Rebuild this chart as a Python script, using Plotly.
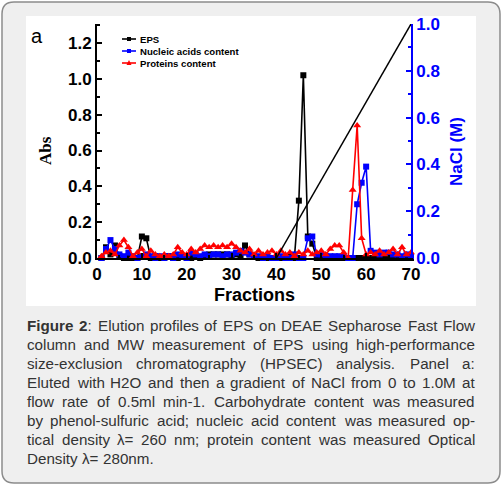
import plotly.graph_objects as go

W, H = 502, 486

fractions = list(range(1, 71))

eps = [0.00, 0.06, 0.02, 0.07, 0.01, 0.00, 0.00, 0.00, 0.00, 0.12,
       0.11, 0.00, 0.01, 0.00, 0.00, 0.01, 0.00, 0.00, 0.01, 0.00,
       0.00, 0.01, 0.00, 0.01, 0.02, 0.02, 0.02, 0.02, 0.02, 0.01,
       0.02, 0.01, 0.07, 0.02, 0.01, 0.00, 0.00, 0.00, 0.00, 0.00,
       0.00, 0.00, 0.01, 0.00, 0.32, 1.02, 0.12, 0.08, 0.00, 0.00,
       0.00, 0.00, 0.00, 0.00, 0.00, 0.00, 0.00, 0.00, 0.00, 0.00,
       0.00, 0.00, 0.00, 0.00, 0.00, 0.00, 0.00, 0.00, 0.00, 0.00]

nucleic = [0.00, 0.05, 0.10, 0.05, 0.02, 0.01, 0.03, 0.01, 0.00, 0.01,
           0.02, 0.01, 0.00, 0.01, 0.00, 0.01, 0.00, 0.02, 0.01, 0.00,
           0.03, 0.02, 0.01, 0.02, 0.01, 0.02, 0.02, 0.01, 0.02, 0.02,
           0.03, 0.04, 0.03, 0.02, 0.01, 0.01, 0.00, 0.01, 0.00, 0.00,
           0.01, 0.00, 0.00, 0.02, 0.00, 0.00, 0.11, 0.12, 0.02, 0.02,
           0.01, 0.01, 0.01, 0.01, 0.01, 0.00, 0.00, 0.30, 0.42, 0.51,
           0.04, 0.03, 0.02, 0.03, 0.03, 0.02, 0.02, 0.01, 0.02, 0.01]

proteins = [0.01, 0.03, 0.04, 0.02, 0.07, 0.10, 0.06, 0.01, 0.03, 0.05,
            0.01, 0.04, 0.02, 0.01, 0.02, 0.01, 0.02, 0.06, 0.03, 0.02,
            0.05, 0.03, 0.05, 0.07, 0.06, 0.07, 0.06, 0.07, 0.06, 0.08,
            0.06, 0.04, 0.03, 0.05, 0.02, 0.04, 0.02, 0.03, 0.04, 0.02,
            0.04, 0.02, 0.03, 0.01, 0.03, 0.02, 0.04, 0.02, 0.03, 0.04,
            0.02, 0.05, 0.07, 0.07, 0.03, 0.00, 0.38, 0.74, 0.11, 0.02,
            0.03, 0.02, 0.04, 0.02, 0.03, 0.05, 0.02, 0.06, 0.02, 0.03]

nacl_x = [40, 70]
nacl_y = [0.0, 1.0]

legend_names = ["EPS", "Nucleic acids content", "Proteins content"]

caption = [
    "<b>Figure</b> <b>2</b>: Elution profiles of EPS on DEAE Sepharose Fast Flow",
    "column and MW measurement of EPS using high-performance",
    "size-exclusion chromatography (HPSEC) analysis. Panel a:",
    "Eluted with H2O and then a gradient of NaCl from 0 to 1.0M at",
    "flow rate of 0.5ml min-1. Carbohydrate content was measured",
    "by phenol-sulfuric acid; nucleic acid content was measured op-",
    "tical density \u03bb= 260 nm; protein content was measured Optical",
    "Density \u03bb= 280nm.",
]


def px_x(v):
    return v / W


def px_y(v):
    return 1 - v / H


# rough Arial / Liberation Sans advance widths (per 1000 em) for justifying the caption
REG = dict(zip("abcdefghijklmnopqrstuvwxyz",
               [556, 556, 500, 556, 556, 278, 556, 556, 222, 222, 500, 222, 833,
                556, 556, 556, 556, 333, 500, 278, 556, 500, 722, 500, 500, 500]))
REG.update(zip("ABCDEFGHIJKLMNOPQRSTUVWXYZ",
               [667, 667, 722, 722, 667, 611, 778, 722, 278, 500, 667, 556, 833,
                722, 778, 667, 778, 722, 667, 611, 722, 667, 944, 667, 667, 611]))
REG.update({c: 556 for c in "0123456789"})
REG.update({" ": 278, ".": 278, ",": 278, ":": 278, ";": 278, "-": 333,
            "(": 333, ")": 333, "=": 584, "\u03bb": 500})
BOLD = {"F": 611, "i": 278, "g": 611, "u": 611, "r": 389, "e": 556, "2": 556}


def word_width(word, size):
    bold = False
    total = 0
    i = 0
    while i < len(word):
        if word.startswith("<b>", i):
            bold, i = True, i + 3
            continue
        if word.startswith("</b>", i):
            bold, i = False, i + 4
            continue
        ch = word[i]
        total += (BOLD.get(ch, 600) if bold else REG.get(ch, 556))
        i += 1
    return total * size / 1000


fig = go.Figure()
fig.add_trace(go.Scatter(
    x=fractions, y=eps, name="EPS", mode="lines+markers",
    line=dict(color="black", width=1.6),
    marker=dict(symbol="square", size=6, color="black"),
    cliponaxis=False,
))
fig.add_trace(go.Scatter(
    x=fractions, y=nucleic, name="Nucleic acids content", mode="lines+markers",
    line=dict(color="#0000ff", width=1.6),
    marker=dict(symbol="square", size=6, color="#0000ff"),
    cliponaxis=False,
))
fig.add_trace(go.Scatter(
    x=fractions, y=proteins, name="Proteins content", mode="lines+markers",
    line=dict(color="#ff0000", width=1.6),
    marker=dict(symbol="triangle-up", size=7, color="#ff0000"),
    cliponaxis=False,
))
fig.add_trace(go.Scatter(
    x=nacl_x, y=nacl_y, yaxis="y2", mode="lines",
    line=dict(color="black", width=1.5),
))

tick_font = dict(family="Liberation Sans, Arial", size=17, weight="bold", color="black")

fig.update_layout(
    template="none",
    width=W, height=H,
    margin=dict(l=0, r=0, t=0, b=0, autoexpand=False),
    paper_bgcolor="white",
    plot_bgcolor="white",
    showlegend=False,
    xaxis=dict(
        domain=[px_x(97), px_x(411)], range=[0, 70], automargin=False,
        showline=True, linecolor="black", linewidth=1.8,
        ticks="inside", ticklen=5, tickwidth=1.5, tickcolor="black",
        dtick=10, tick0=0, tickfont=tick_font,
        minor=dict(ticks="inside", ticklen=3, dtick=5, tickcolor="black"),
        showgrid=False, zeroline=False,
    ),
    yaxis=dict(
        domain=[px_y(258), px_y(24)], range=[0, 1.306], automargin=False,
        showline=True, linecolor="black", linewidth=1.8,
        ticks="inside", ticklen=5, tickwidth=1.5, tickcolor="black",
        tickvals=[0, 0.2, 0.4, 0.6, 0.8, 1.0, 1.2], tickformat=".1f",
        tickfont=tick_font,
        minor=dict(ticks="inside", ticklen=3, tickvals=[0.1, 0.3, 0.5, 0.7, 0.9, 1.1, 1.3], tickcolor="black"),
        showgrid=False, zeroline=False,
    ),
    yaxis2=dict(
        overlaying="y", side="right", anchor="x", range=[0, 1.0], automargin=False,
        showline=True, linecolor="#0000ff", linewidth=1.8,
        ticks="inside", ticklen=5, tickwidth=1.5, tickcolor="#0000ff",
        dtick=0.2, tickformat=".1f",
        tickfont=dict(family="Liberation Sans, Arial", size=17, weight="bold", color="#0000ff"),
        minor=dict(ticks="inside", ticklen=3, dtick=0.1, tickcolor="#0000ff"),
        showgrid=False, zeroline=False,
    ),
)

# card background, border and white chart panel
card = ("M 14,2 L 488,2 Q 500,2 500,14 L 500,471 Q 500,483 488,483 "
        "L 14,483 Q 2,483 2,471 L 2,14 Q 2,2 14,2 Z")
conv = []
for p in card.split():
    if "," in p:
        a, b = p.split(",")
        conv.append("%.5f,%.5f" % (px_x(float(a)), px_y(float(b))))
    else:
        conv.append(p)
fig.add_shape(type="path", path=" ".join(conv), xref="paper", yref="paper",
              fillcolor="#efefef", line=dict(color="#8c8c8c", width=1.5), layer="below")
fig.add_shape(type="rect", xref="paper", yref="paper",
              x0=px_x(26), x1=px_x(476), y0=px_y(306), y1=px_y(16),
              fillcolor="white", line=dict(width=0), layer="below")

# hand-made legend (plotly's own legend rows are too tall)
leg_colors = ["black", "#0000ff", "#ff0000"]
for i, (name, col) in enumerate(zip(legend_names, leg_colors)):
    yc = 39 + 12 * i
    fig.add_shape(type="line", xref="paper", yref="paper",
                  x0=px_x(122), x1=px_x(136), y0=px_y(yc), y1=px_y(yc),
                  line=dict(color=col, width=1.6))
    if i < 2:
        fig.add_shape(type="rect", xref="paper", yref="paper",
                      x0=px_x(127), x1=px_x(131), y0=px_y(yc + 2), y1=px_y(yc - 2),
                      fillcolor=col, line=dict(width=0))
    else:
        fig.add_shape(type="path", xref="paper", yref="paper",
                      path="M %.5f,%.5f L %.5f,%.5f L %.5f,%.5f Z" % (
                          px_x(126.5), px_y(yc + 2), px_x(131.5), px_y(yc + 2),
                          px_x(129), px_y(yc - 3)),
                      fillcolor=col, line=dict(width=0))
    fig.add_annotation(x=px_x(138), y=px_y(yc), xref="paper", yref="paper", text=name,
                       xanchor="left", yanchor="middle", showarrow=False,
                       font=dict(family="Liberation Sans, Arial", size=9.6, weight="bold", color="black"))

# axis titles and panel label
fig.add_annotation(x=px_x(45), y=px_y(151), xref="paper", yref="paper", text="Abs",
                   textangle=-90, showarrow=False, xanchor="center", yanchor="middle",
                   font=dict(family="Liberation Serif, Times New Roman", size=17, weight="bold", color="black"))
fig.add_annotation(x=px_x(254), y=px_y(295), xref="paper", yref="paper", text="Fractions",
                   showarrow=False, xanchor="center", yanchor="middle",
                   font=dict(family="Liberation Sans, Arial", size=18, weight="bold", color="black"))
fig.add_annotation(x=px_x(456), y=px_y(152), xref="paper", yref="paper", text="NaCl (M)",
                   textangle=-90, showarrow=False, xanchor="center", yanchor="middle",
                   font=dict(family="Liberation Sans, Arial", size=17, weight="bold", color="#0000ff"))
fig.add_annotation(x=px_x(29), y=px_y(36), xref="paper", yref="paper", text="a",
                   xanchor="left", yanchor="middle", showarrow=False,
                   font=dict(family="Liberation Sans, Arial", size=20, color="black"))

# justified caption, placed word by word
cap_size = 15.2
left, right = 26, 474
for i, line in enumerate(caption):
    words = line.split(" ")
    widths = [word_width(w, cap_size) for w in words]
    if i < len(caption) - 1 and len(words) > 1:
        gap = (right - left - sum(widths)) / (len(words) - 1)
    else:
        gap = REG[" "] * cap_size / 1000
    x = left
    for w, wd in zip(words, widths):
        fig.add_annotation(x=px_x(x - 1), y=px_y(325 + 19 * i), xref="paper", yref="paper",
                           text=w, xanchor="left", yanchor="middle", showarrow=False,
                           font=dict(family="Liberation Sans, Arial", size=cap_size, color="#333333"))
        x += wd + gap

fig.write_html("out.html", config={"displayModeBar": False},
               post_script="document.body.style.margin = '0px';")
